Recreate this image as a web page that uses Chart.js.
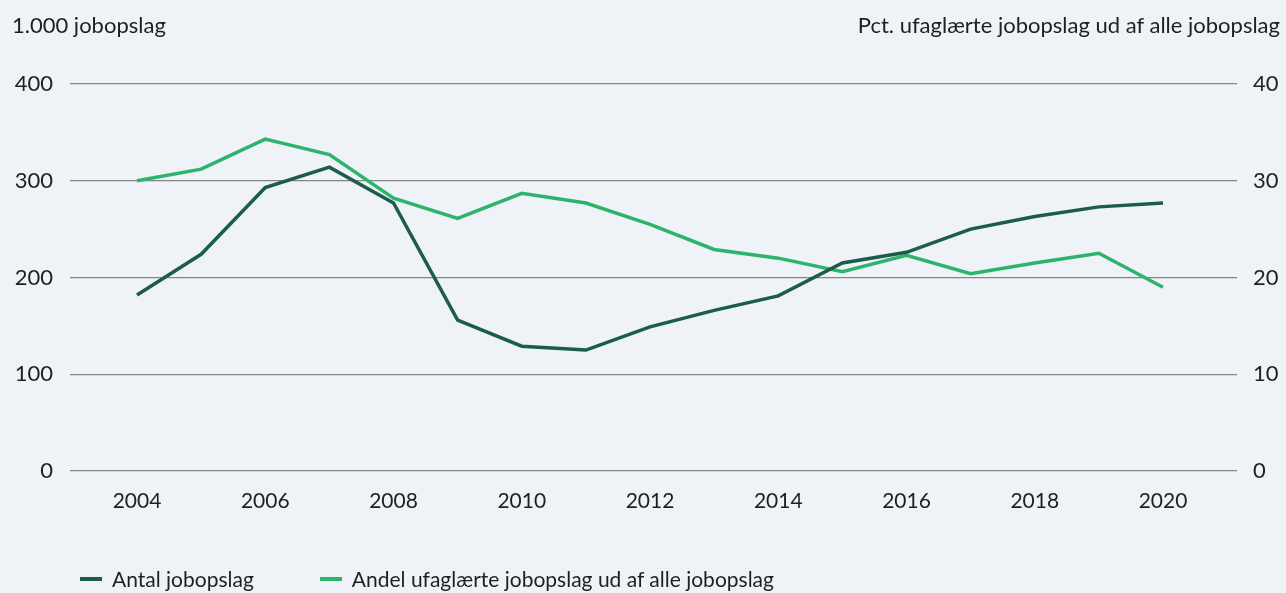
<!DOCTYPE html>
<html>
<head>
<meta charset="utf-8">
<script src="https://cdn.jsdelivr.net/npm/chart.js@4/dist/chart.umd.min.js"></script>
<style>
html,body{margin:0;padding:0;background:#eff3f7;}
#wrap{position:relative;width:1286px;height:593px;overflow:hidden;}
.hdr{position:absolute;top:11px;font-family:Lato,sans-serif;font-size:22px;color:#1f1f1f;white-space:nowrap;}
#hl{left:12px;}
#hr{right:6px;}
#legende{position:absolute;left:80px;top:566px;font-family:Lato,sans-serif;font-size:21px;color:#1f1f1f;white-space:nowrap;display:flex;align-items:center;}
#legende .item{display:flex;align-items:center;margin-right:66px;}
#legende .mark{display:inline-block;width:22px;height:4px;margin-right:10px;}
</style>
</head>
<body>
<div id="wrap">
<canvas id="grafico" width="1286" height="593"></canvas>
<div class="hdr" id="hl">1.000 jobopslag</div>
<div class="hdr" id="hr">Pct. ufaglærte jobopslag ud af alle jobopslag</div>
<div id="legende"></div>
</div>
<script>
// data
const aar = [2004,2005,2006,2007,2008,2009,2010,2011,2012,2013,2014,2015,2016,2017,2018,2019,2020];
const antal = [182,224,293,314,277,156,129,125,149,166,181,215,226,250,263,273,277];
const andel = [30.0,31.2,34.3,32.7,28.2,26.1,28.7,27.7,25.5,22.9,22.0,20.6,22.3,20.4,21.5,22.5,19.0];
const xTicks = [2004,2006,2008,2010,2012,2014,2016,2018,2020];
const venstreTicks = [0,100,200,300,400];
const hoejreTicks = [0,10,20,30,40];

const morkGron = "#1c5c4b";
const lysGron = "#2db46c";
const fnt = "Lato, sans-serif";
const tekst = "#1f1f1f";

const chart = new Chart(document.getElementById("grafico"),{
type:"line",
data:{
datasets:[
{
label:"Antal jobopslag",
data:aar.map((a,i)=>({x:a,y:antal[i]})),
borderColor:morkGron,
backgroundColor:morkGron,
borderWidth:3.5,
pointRadius:0,
tension:0,
yAxisID:"y"
},
{
label:"Andel ufaglærte jobopslag ud af alle jobopslag",
data:aar.map((a,i)=>({x:a,y:andel[i]})),
borderColor:lysGron,
backgroundColor:lysGron,
borderWidth:3.5,
pointRadius:0,
tension:0,
yAxisID:"y2"
}
]
},
options:{
responsive:false,
animation:false,
layout:{padding:{left:12,right:0,top:84,bottom:0}},
plugins:{
tooltip:{enabled:false},
legend:{display:false}
},
scales:{
x:{
type:"linear",
min:2002.955,
max:2021.154,
grid:{display:false},
border:{display:false},
afterBuildTicks:(s)=>{s.ticks=xTicks.map(v=>({value:v}));},
afterFit:(s)=>{s.height=122;},
ticks:{
font:{family:fnt,size:21},
color:tekst,
padding:10,
callback:(v)=>String(v)
}
},
y:{
position:"left",
min:0,max:400,
afterBuildTicks:(s)=>{s.ticks=venstreTicks.map(v=>({value:v}));},
afterFit:(s)=>{s.width=58;},
grid:{color:"#858585",lineWidth:1.3,drawTicks:false},
border:{display:false},
ticks:{
font:{family:fnt,size:22},
color:tekst,
padding:17
}
},
y2:{
position:"right",
min:0,max:40,
afterBuildTicks:(s)=>{s.ticks=hoejreTicks.map(v=>({value:v}));},
afterFit:(s)=>{s.width=49;},
grid:{display:false,drawTicks:false},
border:{display:false},
ticks:{
font:{family:fnt,size:22},
color:tekst,
padding:16
}
}
}
}
});

// legend built from the chart's datasets
const leg = document.getElementById("legende");
chart.data.datasets.forEach(ds=>{
const item = document.createElement("span");
item.className = "item";
const m = document.createElement("span");
m.className = "mark";
m.style.background = ds.borderColor;
item.appendChild(m);
item.appendChild(document.createTextNode(ds.label));
leg.appendChild(item);
});
</script>
</body>
</html>
